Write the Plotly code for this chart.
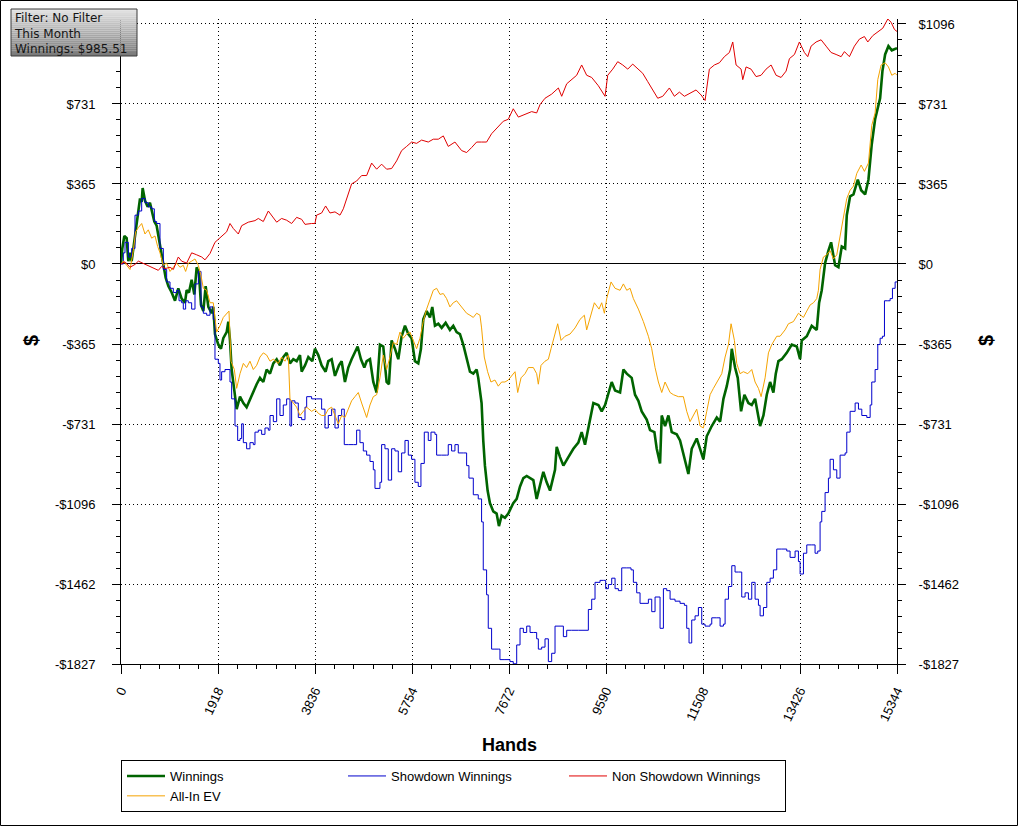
import plotly.graph_objects as go

# ---------------- data ----------------
hands_win = [0, 26, 66, 112, 145, 178, 211, 244, 290, 343, 376, 409, 428, 474, 527, 573, 619, 659, 705, 738, 771, 804, 837, 883, 936, 1002, 1068, 1133, 1199, 1265, 1298, 1344, 1397, 1450, 1496, 1542, 1582, 1628, 1674, 1727, 1792, 1825, 1858, 1924, 1977, 2023, 2089, 2122, 2155, 2188, 2241, 2287, 2353, 2419, 2484, 2550, 2616, 2682, 2748, 2814, 2880, 2946, 3012, 3078, 3143, 3209, 3275, 3341, 3407, 3473, 3539, 3572, 3638, 3704, 3783, 3835, 3901, 3967, 4046, 4099, 4165, 4231, 4310, 4363, 4428, 4494, 4560, 4626, 4679, 4745, 4811, 4857, 4923, 4989, 5055, 5120, 5186, 5252, 5298, 5351, 5417, 5483, 5549, 5615, 5681, 5746, 5812, 5878, 5931, 5977, 6043, 6109, 6155, 6208, 6274, 6340, 6419, 6504, 6570, 6636, 6702, 6768, 6834, 6900, 6966, 7032, 7064, 7130, 7163, 7196, 7249, 7295, 7361, 7427, 7473, 7526, 7592, 7658, 7756,
             7824, 7890, 7956, 8022, 8088, 8153, 8219, 8285, 8351, 8417, 8483, 8582, 8615, 8681, 8747, 8846, 8945, 9043, 9109, 9175, 9241, 9340, 9439, 9505, 9571, 9637, 9703, 9769, 9868, 9934, 10000, 10098, 10164, 10230, 10296, 10395, 10461, 10547, 10593, 10659, 10692, 10758, 10824, 10890, 10988, 11054, 11120, 11166, 11219, 11285, 11384, 11450, 11516, 11582, 11681, 11780, 11846, 11912, 11978, 12044, 12077, 12142, 12195, 12261, 12327, 12406, 12472, 12538, 12604, 12637, 12703, 12769, 12835, 12900, 12947, 12999, 13065, 13164, 13263, 13362, 13428, 13461, 13560, 13658, 13757, 13804, 13856, 13922, 13988, 14041, 14120, 14186, 14252, 14318, 14351, 14417, 14483, 14569, 14635, 14714, 14779, 14845, 14911, 15010, 15056, 15109, 15175, 15241, 15344]
winnings = [0, 71, 128, 118, 13, 51, 13, 71, 175, 242, 299, 284, 347, 290, 261, 280, 233, 194, 175, 128, 99, 51, -6, -63, -101, -130, -168, -111, -158, -177, -120, -130, -72, -139, -15, -44, -187, -215, -101, -196, -225, -196, -320, -368, -387, -339, -311, -263, -349, -482, -578, -663, -606, -635, -654, -616, -578, -549, -520, -539, -482, -501, -454, -435, -463, -425, -406, -454, -435, -444, -416, -492, -463, -425, -444, -387, -416, -463, -492, -444, -435, -511, -463, -444, -539, -473, -435, -406, -377, -435, -473, -444, -435, -539, -587, -368, -377, -539, -549, -349, -387, -435, -330, -282, -320, -339, -444, -454, -387, -253, -215, -244, -196, -282, -273, -292, -269, -301, -282, -311, -320, -368, -425, -492, -501, -482, -520, -635, -806, -921, -1035, -1092, -1130, -1140, -1197, -1149, -1159, -1140, -1092,
            -1073, -1016, -978, -968, -978, -987, -1073, -1006, -949, -997, -1035, -940, -835, -882, -921, -882, -844, -816, -768, -825, -749, -635, -644, -673, -644, -587, -539, -578, -587, -482, -501, -520, -597, -625, -673, -711, -759, -768, -844, -911, -692, -740, -692, -768, -778, -806, -863, -902, -959, -844, -797, -844, -892, -787, -740, -701, -720, -616, -558, -482, -387, -473, -520, -673, -597, -635, -644, -616, -692, -740, -692, -597, -539, -587, -501, -444, -435, -406, -368, -377, -435, -349, -330, -282, -301, -177, -120, 4, 61, 99, -6, -15, 80, 71, 223, 309, 318, 385, 337, 318, 385, 547, 661, 757, 881, 957, 995, 976, 986]

hands_sd = [0, 46, 79, 145, 211, 277, 343, 409, 474, 540, 606, 659, 705, 771, 837, 903, 969, 1035, 1101, 1147, 1199, 1232, 1278, 1331, 1397, 1463, 1529, 1582, 1628, 1694, 1760, 1825, 1858, 1924, 1957, 1990, 2056, 2155, 2188, 2254, 2307, 2353, 2386, 2419, 2484, 2550, 2616, 2649, 2715, 2781, 2847, 2913, 2946, 3012, 3078, 3143, 3209, 3275, 3341, 3374, 3440, 3506, 3572, 3638, 3671, 3769, 3868, 3967, 4033, 4099, 4165, 4231, 4297, 4363, 4415, 4494, 4593, 4659, 4725, 4791, 4857, 4923, 4989, 5022, 5120, 5153, 5219, 5285, 5351, 5417, 5483, 5549, 5615, 5681, 5746, 5812, 5878, 5931, 5997, 6076, 6129, 6208, 6241, 6340, 6438, 6471, 6537, 6603, 6669, 6768, 6834, 6880, 6966, 7064, 7130, 7163, 7229, 7262, 7328, 7394, 7460, 7493, 7592, 7691, 7756,
            7824, 7890, 7956, 8022, 8088, 8153, 8219, 8252, 8318, 8384, 8450, 8516, 8582, 8681, 8747, 8813, 8912, 9043, 9175, 9241, 9307, 9373, 9472, 9538, 9584, 9637, 9703, 9769, 9835, 9901, 10000, 10085, 10131, 10197, 10263, 10362, 10428, 10494, 10560, 10659, 10725, 10791, 10857, 10955, 11054, 11140, 11186, 11232, 11285, 11351, 11417, 11483, 11549, 11648, 11681, 11780, 11846, 11912, 11945, 12011, 12077, 12142, 12208, 12274, 12340, 12406, 12472, 12538, 12604, 12637, 12703, 12769, 12835, 12900, 12966, 13065, 13164, 13230, 13329, 13395, 13428, 13494, 13560, 13658, 13724, 13777, 13823, 13856, 13922, 13988, 14021, 14087, 14153, 14219, 14318, 14351, 14417, 14516, 14582, 14648, 14747, 14813, 14845, 14911, 14964, 15010, 15056, 15096, 15162, 15208, 15254, 15307, 15344]
showdown = [0, 51, 99, 32, 71, 223, 242, 299, 280, 261, 252, 194, 185, 71, -25, -82, -111, -130, -120, -168, -177, -206, -168, -177, -206, -91, -34, -196, -225, -234, -196, -253, -435, -454, -530, -492, -482, -539, -616, -740, -806, -797, -730, -816, -844, -816, -825, -768, -759, -778, -749, -759, -692, -720, -616, -692, -644, -616, -740, -625, -635, -701, -711, -654, -606, -616, -616, -663, -749, -692, -663, -749, -692, -663, -825, -825, -825, -759, -816, -854, -873, -902, -940, -1025, -997, -825, -844, -987, -844, -854, -949, -863, -806, -873, -892, -997, -1016, -911, -768, -806, -768, -778, -873, -873, -873, -825, -854, -825, -863, -863, -921, -978, -1054, -1073, -1178, -1397, -1511, -1664, -1759, -1759, -1759, -1807, -1807, -1816, -1826,
            -1740, -1664, -1683, -1654, -1683, -1683, -1712, -1759, -1750, -1712, -1816, -1778, -1654, -1654, -1702, -1673, -1673, -1673, -1673, -1578, -1531, -1454, -1445, -1445, -1483, -1464, -1435, -1483, -1492, -1388, -1388, -1397, -1454, -1502, -1550, -1550, -1531, -1588, -1521, -1664, -1483, -1492, -1531, -1540, -1550, -1559, -1664, -1731, -1626, -1607, -1569, -1645, -1654, -1645, -1616, -1616, -1654, -1645, -1531, -1473, -1378, -1407, -1407, -1521, -1502, -1531, -1454, -1531, -1559, -1607, -1569, -1454, -1435, -1397, -1302, -1302, -1311, -1340, -1311, -1359, -1416, -1321, -1283, -1283, -1321, -1311, -1178, -1130, -1044, -978, -892, -940, -978, -873, -863, -768, -673, -635, -663, -692, -701, -644, -539, -482, -368, -339, -330, -168, -168, -158, -111, -82, -82]

hands_nsd = [0, 79, 178, 277, 343, 474, 540, 672, 738, 804, 870, 969, 1035, 1133, 1199, 1298, 1397, 1496, 1595, 1661, 1760, 1858, 1990, 2089, 2155, 2221, 2320, 2386, 2517, 2649, 2715, 2814, 2913, 2979, 3078, 3176, 3275, 3374, 3473, 3572, 3638, 3769, 3835, 3868, 3967, 4046, 4132, 4231, 4330, 4396, 4461, 4560, 4659, 4758, 4857, 4956, 5055, 5153, 5252, 5351, 5450, 5549, 5648, 5746, 5845, 5944, 6076, 6175, 6274, 6373, 6471, 6603, 6735, 6834, 6933, 7032, 7130, 7229, 7328, 7460, 7559, 7658, 7756,
             7857, 7989, 8120, 8219, 8285, 8384, 8516, 8648, 8714, 8813, 8912, 9010, 9109, 9208, 9307, 9439, 9571, 9624, 9723, 9822, 9921, 10020, 10118, 10217, 10316, 10415, 10514, 10613, 10712, 10843, 10942, 11041, 11140, 11239, 11371, 11470, 11549, 11634, 11733, 11832, 11931, 12030, 12096, 12162, 12261, 12294, 12360, 12458, 12557, 12656, 12755, 12854, 12953, 13052, 13151, 13217, 13316, 13414, 13513, 13579, 13645, 13744, 13843, 13942, 14041, 14140, 14239, 14305, 14403, 14502, 14601, 14700, 14766, 14865, 14964, 15063, 15162, 15228, 15294, 15344]
non_showdown = [0, 10, -15, -2, 13, 0, -10, -21, -29, -11, -21, -15, -25, 32, 13, 4, 51, 42, 32, 19, 48, 99, 128, 147, 185, 162, 137, 175, 191, 198, 208, 194, 242, 223, 191, 208, 200, 185, 213, 204, 181, 185, 185, 223, 233, 265, 233, 238, 223, 252, 299, 366, 379, 404, 404, 461, 433, 456, 433, 436, 471, 518, 537, 557, 551, 566, 557, 570, 570, 585, 537, 557, 518, 509, 532, 557, 557, 557, 595, 627, 652, 661, 709,
                671, 684, 696, 690, 728, 757, 776, 804, 766, 823, 842, 862, 909, 862, 852, 814, 766, 862, 890, 924, 909, 890, 913, 890, 871, 833, 795, 757, 766, 804, 766, 785, 766, 780, 795, 772, 747, 890, 909, 919, 947, 966, 1014, 909, 890, 842, 900, 890, 856, 862, 890, 909, 862, 852, 881, 938, 957, 1014, 966, 947, 995, 1014, 1024, 995, 966, 957, 947, 970, 947, 995, 1027, 1039, 1014, 1043, 1062, 1077, 1119, 1104, 1071, 1062]

hands_ev = [0, 46, 112, 178, 244, 290, 343, 409, 474, 540, 606, 672, 725, 771, 837, 903, 969, 1035, 1101, 1166, 1232, 1278, 1331, 1397, 1463, 1529, 1582, 1628, 1694, 1760, 1825, 1891, 1957, 2023, 2089, 2135, 2175, 2241, 2287, 2353, 2419, 2484, 2550, 2616, 2682, 2748, 2814, 2880, 2946, 3012, 3110, 3176, 3242, 3308, 3341, 3407, 3473, 3539, 3605, 3671, 3769, 3835, 3901, 3967, 4033, 4099, 4165, 4231, 4297, 4363, 4428, 4494, 4560, 4626, 4692, 4758, 4824, 4857, 4923, 4989, 5055, 5120, 5186, 5252, 5318, 5384, 5450, 5516, 5582, 5648, 5714, 5779, 5845, 5911, 5977, 6043, 6109, 6175, 6241, 6307, 6373, 6438, 6504, 6570, 6636, 6702, 6768, 6834, 6900, 6966, 7032, 7098, 7130, 7183, 7249, 7315, 7394, 7460, 7526, 7592, 7658, 7756,
            7791, 7844, 7910, 7989, 8055, 8153, 8219, 8252, 8305, 8384, 8450, 8503, 8582, 8635, 8701, 8780, 8879, 8978, 9076, 9162, 9208, 9274, 9360, 9452, 9505, 9558, 9604, 9690, 9769, 9868, 9934, 10000, 10066, 10131, 10230, 10329, 10428, 10494, 10560, 10626, 10692, 10758, 10857, 10923, 11021, 11120, 11186, 11252, 11318, 11384, 11450, 11516, 11582, 11648, 11714, 11813, 11879, 11945, 12011, 12063, 12129, 12175, 12241, 12307, 12393, 12472, 12538, 12604, 12657, 12736, 12802, 12868, 12966, 13032, 13131, 13197, 13296, 13395, 13494, 13560, 13626, 13692, 13757, 13790, 13823, 13889, 13955, 14021, 14087, 14153, 14219, 14285, 14351, 14417, 14483, 14549, 14635, 14700, 14779, 14845, 14911, 14964, 15030, 15109, 15175, 15241, 15307, 15344]
all_in_ev = [0, 13, -6, -25, 61, 147, 166, 185, 137, 156, 118, 128, 80, 51, -6, 4, -34, -15, 4, -15, -6, -34, 4, 13, 23, -6, -53, -111, -120, -177, -177, -311, -282, -244, -225, -215, -444, -482, -568, -501, -454, -473, -444, -482, -463, -425, -406, -416, -444, -435, -454, -425, -444, -416, -616, -635, -654, -692, -673, -654, -673, -663, -682, -692, -692, -663, -654, -692, -730, -692, -701, -663, -625, -606, -587, -635, -682, -701, -644, -606, -597, -520, -416, -482, -425, -358, -368, -311, -339, -320, -311, -349, -387, -339, -263, -206, -158, -120, -111, -139, -135, -158, -196, -177, -168, -187, -206, -225, -234, -244, -225, -234, -292, -425, -492, -539, -530, -558, -539, -539, -530, -501,
             -492, -587, -520, -501, -473, -473, -501, -549, -463, -444, -435, -387, -311, -273, -349, -330, -320, -292, -253, -234, -301, -244, -177, -206, -177, -225, -158, -82, -111, -120, -91, -120, -111, -158, -206, -263, -330, -387, -473, -539, -587, -539, -587, -597, -606, -606, -673, -720, -692, -663, -740, -749, -673, -597, -568, -530, -501, -425, -368, -273, -349, -454, -501, -492, -501, -482, -539, -568, -606, -520, -406, -368, -330, -330, -301, -273, -263, -225, -244, -215, -187, -177, -158, -120, -25, 32, 42, 61, 23, 42, 128, 204, 299, 337, 356, 414, 452, 423, 461, 633, 690, 842, 909, 919, 900, 862, 871, 862]

x_max = 15344
x_step = 1918
y_min = -1827
y_max = 1119
y_step = 365.4
y_tickvals = [-1827, -1461.6, -1096.2, -730.8, -365.4, 0, 365.4, 730.8, 1096.2]
y_ticktext = ["-$1827", "-$1462", "-$1096", "-$731", "-$365", "$0", "$365", "$731", "$1096"]
# the top-left label is hidden under the info box in the reference
y_ticktext_left = y_ticktext[:-1] + [""]
info_lines = ["Filter: No Filter", "This Month", "Winnings: $985.51"]

# ---------------- geometry helpers (pixels -> paper) ----------------
W, H = 1018, 826
L, R, T, B = 121, 121, 19, 162
PW, PH = W - L - R, H - T - B


def px2x(px):
    return (px - L) / PW


def px2y(py):
    return (H - B - py) / PH


FONT = "Liberation Sans, Arial, sans-serif"
GRID_DASH = "1px,3px"

fig = go.Figure()
fig.add_trace(go.Scatter(x=hands_win, y=winnings, mode="lines", name="Winnings",
                         line=dict(color="#006400", width=2.6), hoverinfo="skip"))
fig.add_trace(go.Scatter(x=hands_sd, y=showdown, mode="lines", name="Showdown Winnings",
                         line=dict(color="#0000CC", width=1, shape="hv"), hoverinfo="skip"))
fig.add_trace(go.Scatter(x=hands_nsd, y=non_showdown, mode="lines", name="Non Showdown Winnings",
                         line=dict(color="#E00000", width=1), hoverinfo="skip", yaxis="y2"))
fig.add_trace(go.Scatter(x=hands_ev, y=all_in_ev, mode="lines", name="All-In EV",
                         line=dict(color="#F5A300", width=1), hoverinfo="skip"))

tickfont = dict(family=FONT, size=13, color="black")
common_x = dict(range=[0, x_max], tickmode="linear", tick0=0, dtick=x_step)
common_y = dict(range=[y_min, y_max], tickmode="array", tickvals=y_tickvals)

fig.update_layout(
    width=W, height=H,
    margin=dict(l=L, r=R, t=T, b=B, autoexpand=False),
    paper_bgcolor="white", plot_bgcolor="white",
    font=dict(family=FONT, size=13, color="black"),
    xaxis=dict(**common_x, ticks="outside", ticklen=9, tickcolor="black", tickwidth=1,
               tickformat="d",
               minor=dict(tick0=0, dtick=x_step / 5, ticks="outside", ticklen=4,
                          tickcolor="black", showgrid=False),
               showline=True, linecolor="black", linewidth=1,
               showgrid=True, gridcolor="black", griddash=GRID_DASH, gridwidth=1,
               zeroline=False, tickangle=-65, tickfont=tickfont, ticklabelstandoff=4),
    yaxis=dict(**common_y, ticktext=y_ticktext_left, ticks="outside", ticklen=8, tickcolor="black",
               minor=dict(tick0=0, dtick=y_step / 5, ticks="outside", ticklen=4,
                          tickcolor="black", showgrid=False),
               showline=True, linecolor="black", linewidth=1,
               showgrid=True, gridcolor="black", griddash=GRID_DASH, gridwidth=1,
               zeroline=True, zerolinecolor="black", zerolinewidth=1,
               tickfont=tickfont, ticklabelstandoff=14),
    yaxis2=dict(**common_y, ticktext=y_ticktext, overlaying="y", side="right", anchor="x",
                ticks="outside", ticklen=8, tickcolor="black", showticklabels=True,
                minor=dict(tick0=0, dtick=y_step / 5, ticks="outside", ticklen=4, tickcolor="black"),
                showline=True, linecolor="black", linewidth=1, showgrid=False, zeroline=False,
                tickfont=tickfont, ticklabelstandoff=10),
    yaxis3=dict(**common_y, overlaying="y", side="left", anchor="x", ticks="inside", ticklen=6,
                tickcolor="black", showticklabels=False,
                minor=dict(tick0=0, dtick=y_step / 5, ticks="inside", ticklen=4, tickcolor="black"),
                showline=False, showgrid=False, zeroline=False),
    yaxis4=dict(**common_y, overlaying="y", side="right", anchor="x", ticks="inside", ticklen=6,
                tickcolor="black", showticklabels=False,
                minor=dict(tick0=0, dtick=y_step / 5, ticks="inside", ticklen=4, tickcolor="black"),
                showline=False, showgrid=False, zeroline=False),
    xaxis2=dict(**common_x, overlaying="x", side="bottom", anchor="y", ticks="inside", ticklen=5,
                tickcolor="black", showticklabels=False,
                minor=dict(tick0=0, dtick=x_step / 5, ticks="inside", ticklen=4, tickcolor="black"),
                showline=False, showgrid=False, zeroline=False),
    xaxis3=dict(**common_x, overlaying="x", side="top", anchor="y", ticks="inside", ticklen=5,
                tickcolor="black", showticklabels=False,
                minor=dict(tick0=0, dtick=x_step / 5, ticks="inside", ticklen=4, tickcolor="black"),
                showline=False, showgrid=False, zeroline=False),
    legend=dict(orientation="h", x=0, xanchor="left", y=px2y(760), yanchor="top",
                bgcolor="white", bordercolor="black", borderwidth=1,
                entrywidth=168, entrywidthmode="pixels", itemwidth=38,
                font=dict(family=FONT, size=13, color="black"), traceorder="normal"),
    showlegend=True,
)

shapes = []
# outer frame around the whole image
shapes.append(dict(type="rect", xref="paper", yref="paper",
                   x0=px2x(0.5), x1=px2x(1017.5), y0=px2y(825.5), y1=px2y(0.5),
                   line=dict(color="black", width=1), fillcolor="rgba(0,0,0,0)", layer="above"))
# info box with vertical gradient
bx0, bx1, by0, by1 = 11, 137, 9, 56
n = 24
for i in range(n):
    t = i / (n - 1)
    c = int(228 - t * (228 - 122))
    ya = by0 + (by1 - by0) * i / n
    yb = by0 + (by1 - by0) * (i + 1) / n
    shapes.append(dict(type="rect", xref="paper", yref="paper",
                       x0=px2x(bx0), x1=px2x(bx1), y0=px2y(yb), y1=px2y(ya),
                       line=dict(width=0), fillcolor=f"rgb({c},{c},{c})", layer="above"))
shapes.append(dict(type="rect", xref="paper", yref="paper",
                   x0=px2x(bx0), x1=px2x(bx1), y0=px2y(by1), y1=px2y(by0),
                   line=dict(color="#3a3a3a", width=1), fillcolor="rgba(0,0,0,0)", layer="above"))
fig.update_layout(shapes=shapes)

annotations = [
    dict(text="<br>".join(info_lines), xref="paper", yref="paper", x=px2x(12), y=px2y(9),
         xanchor="left", yanchor="top", align="left", showarrow=False,
         font=dict(family="DejaVu Sans, Verdana, sans-serif", size=12, color="#151515")),
    dict(text="<b>Hands</b>", xref="paper", yref="paper", x=0.5, y=px2y(745),
         xanchor="center", yanchor="middle", showarrow=False,
         font=dict(family=FONT, size=18, color="black")),
    dict(text="<b>$</b>", xref="paper", yref="paper", x=px2x(31), y=px2y(341),
         xanchor="center", yanchor="middle", showarrow=False, textangle=-90,
         font=dict(family=FONT, size=20, color="black")),
    dict(text="<b>$</b>", xref="paper", yref="paper", x=px2x(986), y=px2y(341),
         xanchor="center", yanchor="middle", showarrow=False, textangle=-90,
         font=dict(family=FONT, size=20, color="black")),
]
fig.update_layout(annotations=annotations)

fig.write_html("out.html", config={"displayModeBar": False},
               post_script="document.body.style.margin='0';document.body.style.overflow='hidden';")
